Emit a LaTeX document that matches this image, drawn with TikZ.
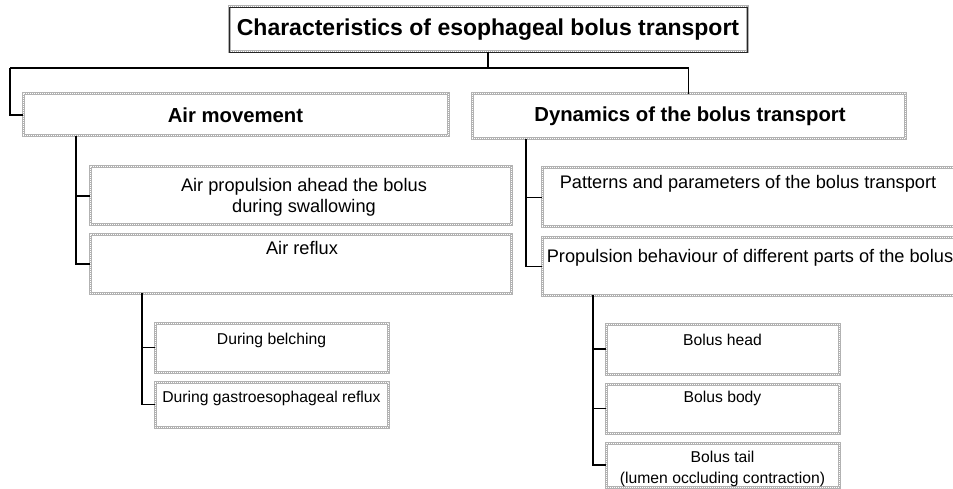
\documentclass[tikz,border=0pt]{standalone}
\usepackage{fontspec}
\setmainfont{Liberation Sans}
\usetikzlibrary{fit}
\begin{document}
\begin{tikzpicture}[x=1pt,y=-1pt,
  box/.style={draw=gray!60, line width=3pt, inner sep=0pt, outer sep=0pt, fill=white,
    postaction={draw=white, line width=1pt, dash pattern=on 0.9pt off 1.1pt}},
  topbox/.style={box, postaction={draw=black!85, line width=0.9pt}},
  conn/.style={draw=black, line width=1.3pt},
  ttl/.style={font=\bfseries\fontsize{23}{27}\selectfont},
  lvone/.style={font=\bfseries\fontsize{20.3}{24}\selectfont},
  lvtwo/.style={font=\fontsize{18.2}{21}\selectfont, align=center},
  lvthree/.style={font=\fontsize{15.7}{21.5}\selectfont, align=center}]
\useasboundingbox (0,0) rectangle (953,489);
\clip (0,0) rectangle (953,489);
% boxes
\node[topbox, fit={(229,7) (747,52)}] (title) {};
\node[box, fit={(23,94) (448,136)}] (air) {};
\node[box, fit={(472,94) (905,139)}] (dyn) {};
\node[box, fit={(90,167) (511,225)}] (prop) {};
\node[box, fit={(90,235) (511,293)}] (reflux) {};
\node[box, fit={(542,168) (955,227)}] (pat) {};
\node[box, fit={(542,238) (955,295)}] (beh) {};
\node[box, fit={(155,323) (388,372)}] (belch) {};
\node[box, fit={(155,382) (388,427)}] (gastro) {};
\node[box, fit={(606,324) (839,374)}] (head) {};
\node[box, fit={(606,384) (839,433)}] (body) {};
\node[box, fit={(606,443) (839,487)}] (tail) {};
% texts
\node[ttl] (ttitle) at (488,29.5) {Characteristics of esophageal bolus transport};
\node[lvone] (tair) at (235.5,115) {Air movement};
\node[lvone] (tdyn) at (690,116.5) {Dynamics of the bolus transport};
\node[lvtwo] (tprop) at (304,197.5) {Air propulsion ahead the bolus\\during swallowing};
\node[lvtwo] (treflux) at (302,247.5) {Air reflux};
\node[lvtwo] (tpat) at (748,183.5) {Patterns and parameters of the bolus transport};
\node[lvtwo] (tbeh) at (750,257.5) {Propulsion behaviour of different parts of the bolus};
\node[lvthree] (tbelch) at (271.5,340) {During belching};
\node[lvthree] (tgastro) at (271.5,398) {During gastroesophageal reflux};
\node[lvthree] (thead) at (722.5,340) {Bolus head};
\node[lvthree] (tbody) at (722.5,398) {Bolus body};
\node[lvthree] (ttail) at (722.5,469) {Bolus tail\\(lumen occluding contraction)};
% connectors
\coordinate (hub) at (488,68);
\coordinate (hl) at (10,68);
\coordinate (hr) at (688.5,68);
\draw[conn] (title.south) -- (hub);
\draw[conn] (hl) -- (hr);
\draw[conn] (hl) |- (air.west);
\draw[conn] (hr) -- (dyn.north);
\coordinate (a1) at (76,136);
\draw[conn] (a1) |- (prop.west);
\draw[conn] (a1) |- (reflux.west);
\coordinate (d1) at (526,139);
\draw[conn] (d1) |- (pat.west);
\draw[conn] (d1) |- (beh.west);
\coordinate (r1) at (142,293);
\draw[conn] (r1) |- (belch.west);
\draw[conn] (r1) |- (gastro.west);
\coordinate (p1) at (593,295);
\draw[conn] (p1) |- (head.west);
\draw[conn] (p1) |- (body.west);
\draw[conn] (p1) |- (tail.west);
\end{tikzpicture}
\end{document}
